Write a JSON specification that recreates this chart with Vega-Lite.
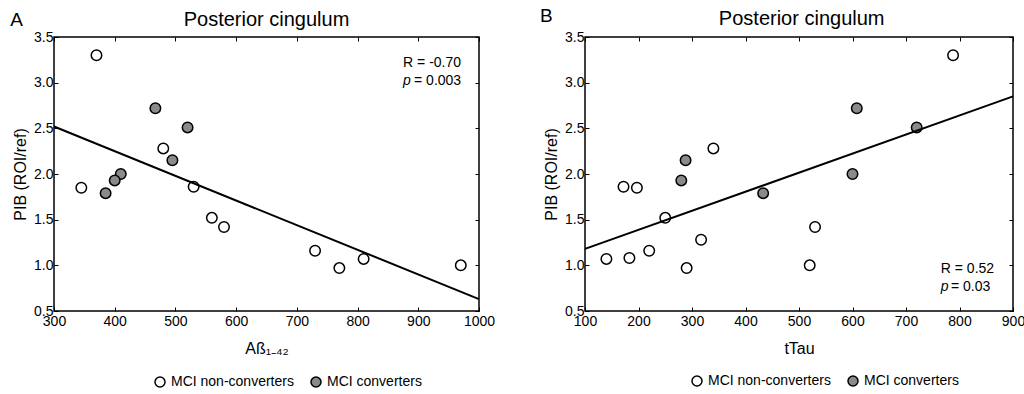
{
  "$schema": "https://vega.github.io/schema/vega-lite/v6.json",
  "background": "white",
  "padding": {"left": 9, "right": 1, "top": 6, "bottom": 5},
  "config": {
    "font": "Liberation Sans",
    "view": {"stroke": "black", "strokeWidth": 1.5},
    "axis": {
      "domain": false, "grid": false,
      "tickColor": "black", "tickWidth": 1, "tickSize": -4,
      "labelFont": "Liberation Sans", "labelFontSize": 14, "labelColor": "black",
      "labelPadding": 5, "labelFlush": false, "labelOverlap": false,
      "titleFont": "Liberation Sans", "titleFontSize": 16, "titleFontWeight": "normal", "titleColor": "black"
    },
    "legend": {
      "orient": "none", "direction": "horizontal", "title": null,
      "labelFont": "Liberation Sans", "labelFontSize": 14, "labelColor": "black",
      "symbolType": "circle", "symbolSize": 100, "symbolStrokeColor": "black", "symbolStrokeWidth": 1.5,
      "columnPadding": 14, "labelOffset": 4
    }
  },
  "datasets": {
    "abeta": [
      {"abeta": 370, "pib": 3.30, "group": "MCI non-converters"},
      {"abeta": 345, "pib": 1.85, "group": "MCI non-converters"},
      {"abeta": 480, "pib": 2.28, "group": "MCI non-converters"},
      {"abeta": 530, "pib": 1.86, "group": "MCI non-converters"},
      {"abeta": 560, "pib": 1.52, "group": "MCI non-converters"},
      {"abeta": 580, "pib": 1.42, "group": "MCI non-converters"},
      {"abeta": 730, "pib": 1.16, "group": "MCI non-converters"},
      {"abeta": 770, "pib": 0.97, "group": "MCI non-converters"},
      {"abeta": 810, "pib": 1.07, "group": "MCI non-converters"},
      {"abeta": 970, "pib": 1.00, "group": "MCI non-converters"},
      {"abeta": 467, "pib": 2.72, "group": "MCI converters"},
      {"abeta": 520, "pib": 2.51, "group": "MCI converters"},
      {"abeta": 495, "pib": 2.15, "group": "MCI converters"},
      {"abeta": 410, "pib": 2.00, "group": "MCI converters"},
      {"abeta": 400, "pib": 1.93, "group": "MCI converters"},
      {"abeta": 385, "pib": 1.79, "group": "MCI converters"}
    ],
    "abetaFit": [
      {"abeta": 300, "pib": 2.52},
      {"abeta": 1000, "pib": 0.63}
    ],
    "abetaText": [
      {"abeta": 875, "pib": 3.22, "label": "R = -0.70"},
      {"abeta": 893, "pib": 3.02, "label": "= 0.003"}
    ],
    "abetaP": [
      {"abeta": 875, "pib": 3.02, "label": "p"}
    ],
    "abetaHead": [
      {"abeta": 650, "pib": 3.69, "label": "Posterior cingulum"}
    ],
    "abetaLetter": [
      {"abeta": 228, "pib": 3.69, "label": "A"}
    ],
    "ttau": [
      {"ttau": 788, "pib": 3.30, "group": "MCI non-converters"},
      {"ttau": 340, "pib": 2.28, "group": "MCI non-converters"},
      {"ttau": 172, "pib": 1.86, "group": "MCI non-converters"},
      {"ttau": 197, "pib": 1.85, "group": "MCI non-converters"},
      {"ttau": 250, "pib": 1.52, "group": "MCI non-converters"},
      {"ttau": 530, "pib": 1.42, "group": "MCI non-converters"},
      {"ttau": 317, "pib": 1.28, "group": "MCI non-converters"},
      {"ttau": 220, "pib": 1.16, "group": "MCI non-converters"},
      {"ttau": 140, "pib": 1.07, "group": "MCI non-converters"},
      {"ttau": 183, "pib": 1.08, "group": "MCI non-converters"},
      {"ttau": 290, "pib": 0.97, "group": "MCI non-converters"},
      {"ttau": 520, "pib": 1.00, "group": "MCI non-converters"},
      {"ttau": 608, "pib": 2.72, "group": "MCI converters"},
      {"ttau": 720, "pib": 2.51, "group": "MCI converters"},
      {"ttau": 288, "pib": 2.15, "group": "MCI converters"},
      {"ttau": 280, "pib": 1.93, "group": "MCI converters"},
      {"ttau": 600, "pib": 2.00, "group": "MCI converters"},
      {"ttau": 433, "pib": 1.79, "group": "MCI converters"}
    ],
    "ttauFit": [
      {"ttau": 100, "pib": 1.18},
      {"ttau": 900, "pib": 2.85}
    ],
    "ttauText": [
      {"ttau": 765, "pib": 0.96, "label": "R = 0.52"},
      {"ttau": 784, "pib": 0.76, "label": "= 0.03"}
    ],
    "ttauP": [
      {"ttau": 765, "pib": 0.76, "label": "p"}
    ],
    "ttauHead": [
      {"ttau": 505, "pib": 3.70, "label": "Posterior cingulum"}
    ],
    "ttauLetter": [
      {"ttau": 16, "pib": 3.73, "label": "B"}
    ]
  },
  "hconcat": [
    {
      "width": 425, "height": 274,
      "layer": [
        {
          "data": {"name": "abeta"},
          "mark": {"type": "point", "shape": "circle", "size": 110, "stroke": "black", "strokeWidth": 1.5, "opacity": 1, "fillOpacity": 1},
          "encoding": {
            "x": {"field": "abeta", "type": "quantitative", "scale": {"domain": [300, 1000], "nice": false, "zero": false},
                  "axis": {"orient": "bottom", "values": [300, 400, 500, 600, 700, 800, 900, 1000], "format": "d", "labelPadding": 7, "title": "Aß₁₋₄₂", "titlePadding": 12}},
            "y": {"field": "pib", "type": "quantitative", "scale": {"domain": [0.5, 3.5], "nice": false, "zero": false},
                  "axis": {"orient": "left", "values": [0.5, 1, 1.5, 2, 2.5, 3, 3.5], "format": ".1f", "title": "PIB (ROI/ref)", "titlePadding": 5}},
            "fill": {"field": "group", "type": "nominal",
                     "scale": {"domain": ["MCI non-converters", "MCI converters"], "range": ["white", "#8a8a8a"]},
                     "legend": {"legendX": 99, "legendY": 338}}
          }
        },
        {
          "data": {"name": "abetaFit"},
          "mark": {"type": "line", "color": "black", "strokeWidth": 2},
          "encoding": {
            "x": {"field": "abeta", "type": "quantitative", "axis": {"orient": "top", "values": [300, 400, 500, 600, 700, 800, 900, 1000], "labels": false, "title": null}},
            "y": {"field": "pib", "type": "quantitative", "axis": {"orient": "right", "values": [0.5, 1, 1.5, 2, 2.5, 3, 3.5], "labels": false, "title": null}}
          }
        },
        {
          "data": {"name": "abetaText"},
          "mark": {"type": "text", "align": "left", "baseline": "middle", "fontSize": 14, "color": "black"},
          "encoding": {
            "x": {"field": "abeta", "type": "quantitative", "axis": null},
            "y": {"field": "pib", "type": "quantitative", "axis": null},
            "text": {"field": "label"}
          }
        },
        {
          "data": {"name": "abetaP"},
          "mark": {"type": "text", "align": "left", "baseline": "middle", "fontSize": 14, "fontStyle": "italic", "color": "black"},
          "encoding": {
            "x": {"field": "abeta", "type": "quantitative", "axis": null},
            "y": {"field": "pib", "type": "quantitative", "axis": null},
            "text": {"field": "label"}
          }
        },
        {
          "data": {"name": "abetaHead"},
          "mark": {"type": "text", "align": "center", "baseline": "middle", "fontSize": 20, "color": "black"},
          "encoding": {
            "x": {"field": "abeta", "type": "quantitative", "axis": null},
            "y": {"field": "pib", "type": "quantitative", "axis": null},
            "text": {"field": "label"}
          }
        },
        {
          "data": {"name": "abetaLetter"},
          "mark": {"type": "text", "align": "left", "baseline": "middle", "fontSize": 19, "color": "black"},
          "encoding": {
            "x": {"field": "abeta", "type": "quantitative", "axis": null},
            "y": {"field": "pib", "type": "quantitative", "axis": null},
            "text": {"field": "label"}
          }
        }
      ],
      "resolve": {"axis": {"x": "independent", "y": "independent"}}
    },
    {
      "width": 428, "height": 274,
      "layer": [
        {
          "data": {"name": "ttau"},
          "mark": {"type": "point", "shape": "circle", "size": 110, "stroke": "black", "strokeWidth": 1.5, "opacity": 1, "fillOpacity": 1},
          "encoding": {
            "x": {"field": "ttau", "type": "quantitative", "scale": {"domain": [100, 900], "nice": false, "zero": false},
                  "axis": {"orient": "bottom", "values": [100, 200, 300, 400, 500, 600, 700, 800, 900], "format": "d", "labelPadding": 7, "title": "tTau", "titlePadding": 12}},
            "y": {"field": "pib", "type": "quantitative", "scale": {"domain": [0.5, 3.5], "nice": false, "zero": false},
                  "axis": {"orient": "left", "values": [0.5, 1, 1.5, 2, 2.5, 3, 3.5], "format": ".1f", "title": "PIB (ROI/ref)", "titlePadding": 5}},
            "fill": {"field": "group", "type": "nominal",
                     "scale": {"domain": ["MCI non-converters", "MCI converters"], "range": ["white", "#8a8a8a"]},
                     "legend": {"legendX": 105, "legendY": 337}}
          }
        },
        {
          "data": {"name": "ttauFit"},
          "mark": {"type": "line", "color": "black", "strokeWidth": 2},
          "encoding": {
            "x": {"field": "ttau", "type": "quantitative", "axis": {"orient": "top", "values": [100, 200, 300, 400, 500, 600, 700, 800, 900], "labels": false, "title": null}},
            "y": {"field": "pib", "type": "quantitative", "axis": {"orient": "right", "values": [0.5, 1, 1.5, 2, 2.5, 3, 3.5], "labels": false, "title": null}}
          }
        },
        {
          "data": {"name": "ttauText"},
          "mark": {"type": "text", "align": "left", "baseline": "middle", "fontSize": 14, "color": "black"},
          "encoding": {
            "x": {"field": "ttau", "type": "quantitative", "axis": null},
            "y": {"field": "pib", "type": "quantitative", "axis": null},
            "text": {"field": "label"}
          }
        },
        {
          "data": {"name": "ttauP"},
          "mark": {"type": "text", "align": "left", "baseline": "middle", "fontSize": 14, "fontStyle": "italic", "color": "black"},
          "encoding": {
            "x": {"field": "ttau", "type": "quantitative", "axis": null},
            "y": {"field": "pib", "type": "quantitative", "axis": null},
            "text": {"field": "label"}
          }
        },
        {
          "data": {"name": "ttauHead"},
          "mark": {"type": "text", "align": "center", "baseline": "middle", "fontSize": 20, "color": "black"},
          "encoding": {
            "x": {"field": "ttau", "type": "quantitative", "axis": null},
            "y": {"field": "pib", "type": "quantitative", "axis": null},
            "text": {"field": "label"}
          }
        },
        {
          "data": {"name": "ttauLetter"},
          "mark": {"type": "text", "align": "left", "baseline": "middle", "fontSize": 19, "color": "black"},
          "encoding": {
            "x": {"field": "ttau", "type": "quantitative", "axis": null},
            "y": {"field": "pib", "type": "quantitative", "axis": null},
            "text": {"field": "label"}
          }
        }
      ],
      "resolve": {"axis": {"x": "independent", "y": "independent"}}
    }
  ],
  "spacing": 43,
  "resolve": {"scale": {"fill": "independent"}, "legend": {"fill": "independent"}}
}
